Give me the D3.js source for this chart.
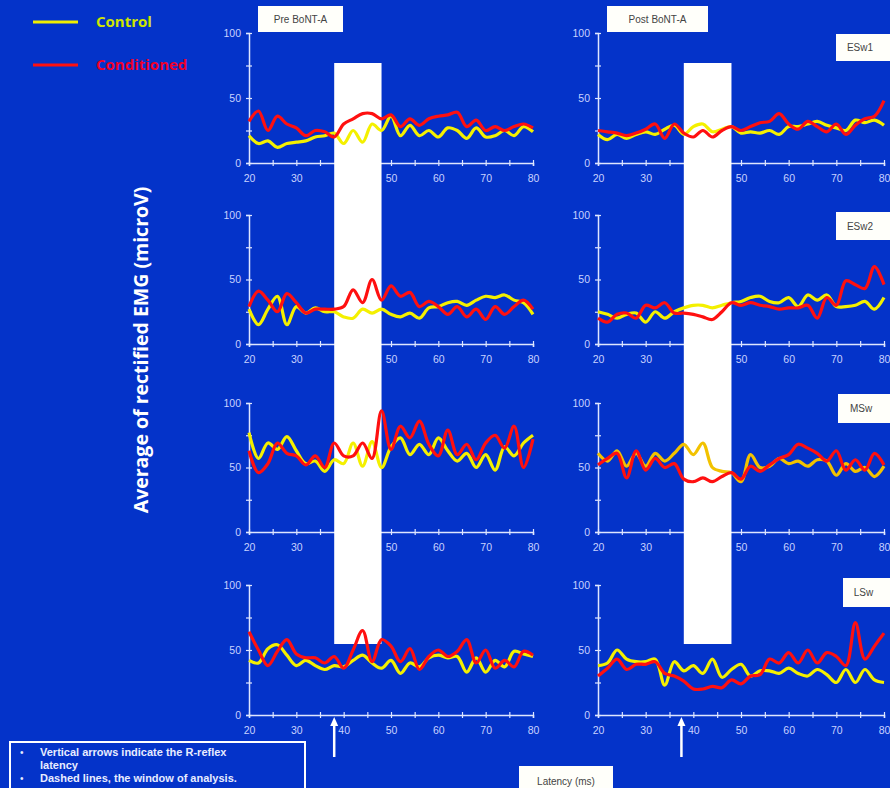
<!DOCTYPE html>
<html>
<head>
<meta charset="utf-8">
<script src="https://cdn.jsdelivr.net/npm/d3@7"></script>
<style>
  html, body { margin: 0; padding: 0; background: #0433c9; }
  svg { display: block; }
</style>
</head>
<body>
<div id="chart"></div>
<script>
// Latency samples (ms)
const latency = [20, 22, 24, 26, 28, 30, 32, 34, 36, 38, 40, 42, 44, 46, 48, 50,
                 52, 54, 56, 58, 60, 62, 64, 66, 68, 70, 72, 74, 76, 78, 80];

// Pre BoNT-A (left column), control / conditioned
const preESw1Control = [21, 15, 17, 12, 15, 16, 17, 20, 21, 23, 15, 25, 16, 30, 25, 36, 21, 29, 21, 25, 20, 27, 25, 19, 27, 20, 21, 25, 21, 28, 24];
const preESw1Cond    = [32, 40, 25, 36, 30, 27, 21, 25, 24, 20, 30, 34, 38, 38, 34, 37, 28, 34, 29, 34, 36, 37, 39, 28, 33, 25, 28, 25, 28, 30, 27];
const preESw2Control = [27, 15, 27, 37, 15, 29, 24, 28, 25, 25, 21, 20, 27, 24, 27, 23, 21, 24, 20, 28, 29, 32, 33, 30, 34, 37, 36, 38, 34, 32, 23];
const preESw2Cond    = [29, 41, 34, 25, 39, 32, 24, 27, 27, 27, 29, 42, 32, 50, 34, 45, 37, 40, 29, 33, 29, 23, 29, 21, 27, 19, 29, 23, 29, 34, 27];
const preMSwControl  = [77, 57, 69, 64, 74, 63, 53, 55, 47, 56, 53, 69, 51, 70, 50, 66, 73, 60, 68, 60, 73, 63, 55, 61, 50, 60, 48, 66, 59, 69, 75];
const preMSwCond     = [63, 46, 53, 69, 61, 59, 52, 59, 50, 69, 59, 59, 69, 57, 94, 64, 82, 73, 86, 68, 59, 79, 60, 68, 56, 69, 75, 65, 82, 50, 72];
const preLSwControl  = [42, 40, 51, 54, 46, 38, 42, 38, 35, 38, 37, 42, 46, 40, 36, 42, 32, 40, 37, 44, 46, 44, 45, 33, 44, 33, 42, 37, 49, 47, 45];
const preLSwCond     = [64, 50, 38, 49, 58, 47, 44, 44, 40, 45, 36, 50, 65, 41, 58, 53, 41, 51, 35, 45, 50, 45, 49, 58, 40, 50, 36, 42, 37, 49, 46];

// Post BoNT-A (right column)
const postESw1Control = [22, 18, 22, 19, 22, 24, 22, 26, 29, 22, 28, 30, 24, 26, 28, 23, 24, 23, 25, 22, 28, 28, 30, 32, 29, 27, 25, 33, 31, 33, 29];
const postESw1Cond    = [25, 24, 23, 21, 23, 26, 30, 19, 30, 23, 20, 25, 20, 25, 28, 25, 28, 31, 32, 38, 30, 26, 32, 28, 24, 30, 22, 29, 34, 36, 48];
const postESw2Control = [25, 23, 20, 23, 24, 17, 25, 20, 25, 28, 30, 30, 28, 30, 32, 33, 36, 37, 33, 32, 36, 29, 38, 34, 38, 29, 29, 30, 33, 27, 36];
const postESw2Cond    = [20, 17, 23, 24, 20, 30, 28, 32, 24, 24, 23, 21, 19, 25, 32, 30, 32, 30, 29, 27, 28, 28, 30, 20, 36, 30, 49, 46, 43, 60, 46];
const postMSwControl  = [61, 55, 63, 51, 61, 51, 61, 55, 61, 68, 60, 69, 50, 47, 46, 39, 60, 50, 51, 57, 53, 55, 51, 56, 55, 44, 53, 47, 50, 43, 51];
const postMSwCond     = [52, 57, 61, 42, 63, 48, 57, 50, 53, 41, 39, 42, 39, 43, 46, 41, 51, 47, 52, 57, 60, 68, 65, 61, 55, 63, 48, 56, 48, 61, 52];
const postLSwControl  = [38, 40, 50, 43, 41, 41, 43, 23, 41, 34, 38, 32, 43, 29, 35, 39, 30, 34, 34, 32, 36, 32, 30, 35, 31, 25, 35, 25, 35, 27, 25];
const postLSwCond     = [30, 36, 43, 35, 39, 39, 41, 32, 30, 26, 20, 20, 22, 21, 27, 24, 30, 31, 43, 40, 48, 40, 50, 40, 48, 45, 38, 71, 43, 53, 63];

const yTicks = [0, 50, 100];
const xTicks = [20, 30, 40, 50, 60, 70, 80];
const muscles = ["ESw1", "ESw2", "MSw", "LSw"];

const width = 890;
const height = 788;

const svg = d3.select("#chart")
    .append("svg")
    .attr("width", width)
    .attr("height", height);

svg.append("rect")
    .attr("width", width)
    .attr("height", height)
    .attr("fill", "#0433c9");

// Panel layout
const columns = [
    { range: [249, 533], series: [[preESw1Control, preESw1Cond], [preESw2Control, preESw2Cond], [preMSwControl, preMSwCond], [preLSwControl, preLSwCond]], arrowAt: 38 },
    { range: [598, 884], series: [[postESw1Control, postESw1Cond], [postESw2Control, postESw2Cond], [postMSwControl, postMSwCond], [postLSwControl, postLSwCond]], arrowAt: 37.5 }
];
const rows = [[163, 33], [344, 215], [532, 403], [715, 585]];

const axisColor = "#dfe6ff";
const labelColor = "#c9d2ff";

columns.forEach((col, ci) => {
    const x = d3.scaleLinear().domain([20, 80]).range(col.range);

    // Axes first, so the window box covers the "40" labels
    rows.forEach((r) => {
        const y = d3.scaleLinear().domain([0, 100]).range(r);

        const xAxis = svg.append("g")
            .attr("transform", `translate(0, ${r[0]})`)
            .call(d3.axisBottom(x).tickValues(d3.range(20, 81, 5)).tickSize(3).tickFormat(d => xTicks.includes(d) ? d : ""));
        const yAxis = svg.append("g")
            .attr("transform", `translate(${col.range[0]}, 0)`)
            .call(d3.axisLeft(y).tickValues([0, 25, 50, 75, 100]).tickSize(3).tickFormat(d => yTicks.includes(d) ? d : ""));

        [xAxis, yAxis].forEach(g => {
            g.select(".domain").attr("stroke", axisColor).attr("stroke-width", 1.5);
            g.selectAll(".tick line").attr("stroke", axisColor).attr("stroke-width", 1.2);
            g.selectAll(".tick text")
                .attr("fill", labelColor)
                .style("font-family", "Liberation Sans, Arial, sans-serif")
                .style("font-size", "10.5px");
        });
        xAxis.selectAll(".tick line").attr("y1", -3).attr("y2", 3);
        xAxis.selectAll(".tick text").attr("y", 12);
        yAxis.selectAll(".tick line").attr("x1", -3).attr("x2", 3);
        yAxis.selectAll(".tick text").attr("x", -8);
    });

    // Window of analysis
    svg.append("rect")
        .attr("x", x(38))
        .attr("y", 63)
        .attr("width", x(48) - x(38))
        .attr("height", 644 - 63)
        .attr("fill", "#ffffff");

    // Data lines
    rows.forEach((r, ri) => {
        const y = d3.scaleLinear().domain([0, 100]).range(r);
        const line = d3.line()
            .x((d, i) => x(latency[i]))
            .y(d => y(d))
            .curve(d3.curveCatmullRom);
        const [ctrl, cond] = col.series[ri];
        const ctrlColor = (ci === 1 && ri === 2) ? "#f2c200" : "#f4f000";

        svg.append("path")
            .datum(ctrl)
            .attr("fill", "none")
            .attr("stroke", ctrlColor)
            .attr("stroke-width", 3.2)
            .attr("stroke-linejoin", "round")
            .attr("d", line);

        svg.append("path")
            .datum(cond)
            .attr("fill", "none")
            .attr("stroke", "#ff1010")
            .attr("stroke-width", 3.2)
            .attr("stroke-linejoin", "round")
            .attr("d", line);
    });

    // R-reflex latency arrow
    const ax = x(col.arrowAt);
    svg.append("line")
        .attr("x1", ax).attr("x2", ax)
        .attr("y1", 757).attr("y2", 724)
        .attr("stroke", "#ffffff")
        .attr("stroke-width", 2.5);
    svg.append("path")
        .attr("d", `M${ax - 4},${726} L${ax},${717} L${ax + 4},${726} Z`)
        .attr("fill", "#ffffff");
});

// Label boxes
const boxes = [
    { text: "Pre BoNT-A", x: 258, y: 6, w: 85, h: 26 },
    { text: "Post BoNT-A", x: 607, y: 6, w: 101, h: 26 },
    { text: muscles[0], x: 836, y: 34, w: 56, h: 27 },
    { text: muscles[1], x: 836, y: 212, w: 56, h: 28 },
    { text: muscles[2], x: 838, y: 394, w: 54, h: 29 },
    { text: muscles[3], x: 843, y: 578, w: 49, h: 29 },
    { text: "Latency (ms)", x: 519, y: 766, w: 94, h: 30 }
];
boxes.forEach(b => {
    svg.append("rect")
        .attr("x", b.x).attr("y", b.y)
        .attr("width", b.w).attr("height", b.h)
        .attr("fill", "#fffffa");
    const cx = b.x + b.w / 2 - (b.x + b.w > width ? 4 : 0);
    svg.append("text")
        .attr("x", cx)
        .attr("y", b.y + (b.text === "Latency (ms)" ? 15 : b.h / 2))
        .attr("dy", "0.35em")
        .attr("text-anchor", "middle")
        .attr("fill", "#444")
        .style("font-family", "Liberation Sans, Arial, sans-serif")
        .style("font-size", "10px")
        .text(b.text);
});

// Legend
const legendItems = [
    { label: "Control", line: "#f0f000", text: "#cfe600", y: 22 },
    { label: "Conditioned", line: "#ff1010", text: "#f0002a", y: 65 }
];
legendItems.forEach(d => {
    svg.append("line")
        .attr("x1", 33).attr("x2", 78)
        .attr("y1", d.y).attr("y2", d.y)
        .attr("stroke", d.line)
        .attr("stroke-width", 3);
    svg.append("text")
        .attr("x", 96).attr("y", d.y)
        .attr("dy", "0.35em")
        .attr("fill", d.text)
        .style("font-family", "Open Sans, Liberation Sans, sans-serif")
        .style("font-weight", "bold")
        .style("font-size", "15px")
        .text(d.label);
});

// Y axis title
svg.append("text")
    .attr("transform", "translate(141, 350) rotate(-90)")
    .attr("text-anchor", "middle")
    .attr("dy", "0.35em")
    .attr("fill", "#ffffff")
    .style("font-family", "Open Sans, Liberation Sans, sans-serif")
    .style("font-weight", "bold")
    .style("font-size", "19.5px")
    .text("Average of rectified EMG (microV)");

// Notes box
svg.append("rect")
    .attr("x", 10).attr("y", 742)
    .attr("width", 295).attr("height", 60)
    .attr("fill", "none")
    .attr("stroke", "#ffffff")
    .attr("stroke-width", 2);

const notes = [
    { bullet: true, text: "Vertical arrows indicate the R-reflex", y: 752 },
    { bullet: false, text: "latency", y: 765 },
    { bullet: true, text: "Dashed lines, the window of analysis.", y: 778 }
];
notes.forEach(n => {
    if (n.bullet) {
        svg.append("text")
            .attr("x", 20).attr("y", n.y)
            .attr("dy", "0.35em")
            .attr("fill", "#e8ecff")
            .style("font-family", "Liberation Sans, Arial, sans-serif")
            .style("font-size", "10px")
            .text("•");
    }
    svg.append("text")
        .attr("x", 40).attr("y", n.y)
        .attr("dy", "0.35em")
        .attr("fill", "#e8ecff")
        .style("font-family", "Liberation Sans, Arial, sans-serif")
        .style("font-weight", "bold")
        .style("font-size", "11px")
        .text(n.text);
});
</script>
</body>
</html>
